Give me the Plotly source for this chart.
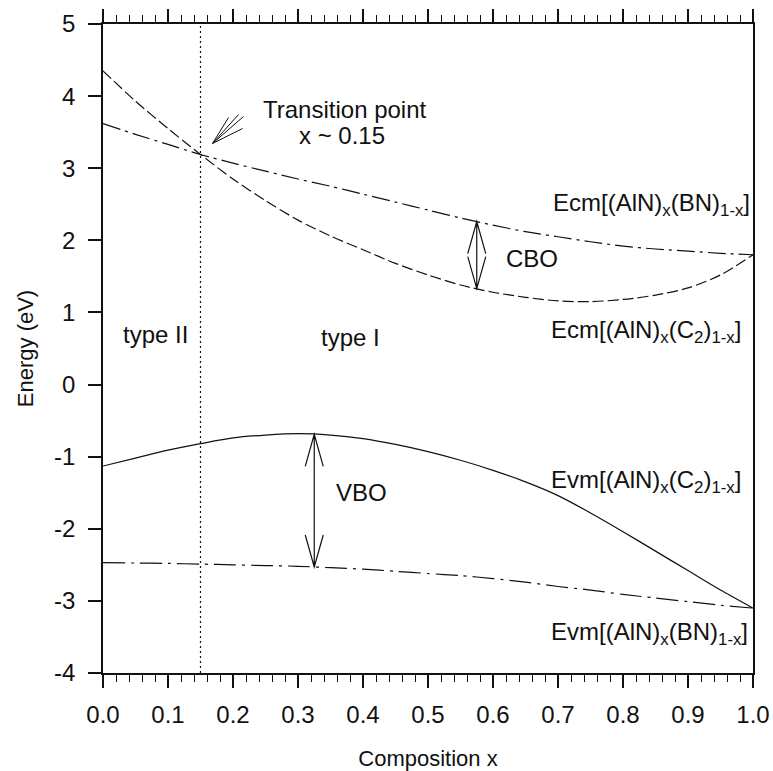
import numpy as np
import plotly.graph_objects as go

# Composition grid and band-edge energies (eV)
comp = [0.0, 0.05, 0.1, 0.15, 0.2, 0.25, 0.3, 0.35, 0.4, 0.45, 0.5,
        0.55, 0.6, 0.65, 0.7, 0.75, 0.8, 0.85, 0.9, 0.95, 1.0]
ecm_bn = [3.62, 3.47, 3.33, 3.19, 3.07, 2.96, 2.85, 2.75, 2.64, 2.53, 2.42,
          2.31, 2.21, 2.12, 2.05, 1.98, 1.92, 1.88, 1.85, 1.82, 1.80]
ecm_c2 = [4.35, 3.93, 3.55, 3.19, 2.85, 2.55, 2.28, 2.06, 1.87, 1.68, 1.52,
          1.38, 1.28, 1.21, 1.16, 1.15, 1.18, 1.24, 1.34, 1.52, 1.80]
evm_c2 = [-1.13, -1.02, -0.91, -0.82, -0.74, -0.70, -0.68, -0.70, -0.75, -0.83, -0.93,
          -1.05, -1.19, -1.35, -1.54, -1.78, -2.04, -2.31, -2.58, -2.85, -3.10]
evm_bn = [-2.47, -2.475, -2.48, -2.49, -2.50, -2.51, -2.52, -2.54, -2.56, -2.59, -2.62,
          -2.65, -2.69, -2.74, -2.80, -2.85, -2.91, -2.96, -3.01, -3.06, -3.10]

x_transition = 0.15
x_cbo = 0.575
x_vbo = 0.325

x_ticks = [0.0, 0.1, 0.2, 0.3, 0.4, 0.5, 0.6, 0.7, 0.8, 0.9, 1.0]
x_ticktext = ["0.0", "0.1", "0.2", "0.3", "0.4", "0.5", "0.6", "0.7", "0.8", "0.9", "1.0"]
y_ticks = [5, 4, 3, 2, 1, 0, -1, -2, -3, -4]
y_ticktext = ["5", "4", "3", "2", "1", "0", "-1", "-2", "-3", "-4"]

W, H = 773, 771
ML, MR, MT, MB = 103, 20, 24, 98
XR = (0.0, 1.0)
YR = (-4.0, 5.0)
px_x = (W - ML - MR) / (XR[1] - XR[0])   # pixels per composition unit
px_y = (H - MT - MB) / (YR[1] - YR[0])   # pixels per eV

FONT = "Liberation Sans, Arial, sans-serif"
INK = "#111111"

fig = go.Figure()


def curve(yvals, name, dash=None):
    fig.add_trace(go.Scatter(x=comp, y=yvals, mode="lines", name=name,
                             line=dict(color=INK, width=1.2, dash=dash,
                                       shape="spline", smoothing=0.8)))


curve(ecm_bn, "Ecm BN", "18px,5px,3px,5px")
curve(ecm_c2, "Ecm C2", "11px,4px")
curve(evm_c2, "Evm C2", "solid")
curve(evm_bn, "Evm BN", "22px,6px,3px,6px")
fig.add_trace(go.Scatter(x=[x_transition, x_transition], y=list(YR), mode="lines",
                         name="transition", line=dict(color=INK, width=1.2, dash="2px,3px")))


def double_arrow(x, y_top, y_bot, head_len=32, head_half=9):
    """Vertical double-headed arrow with long open V heads."""
    dl = head_len / px_y
    dw = head_half / px_x
    path = (f"M {x},{y_top} L {x},{y_bot} "
            f"M {x - dw},{y_top - dl} L {x},{y_top} L {x + dw},{y_top - dl} "
            f"M {x - dw},{y_bot + dl} L {x},{y_bot} L {x + dw},{y_bot + dl}")
    fig.add_shape(type="path", path=path, xref="x", yref="y",
                  line=dict(color=INK, width=1.2))


cbo_top = float(np.interp(x_cbo, comp, ecm_bn))
cbo_bot = float(np.interp(x_cbo, comp, ecm_c2))
vbo_top = float(np.interp(x_vbo, comp, evm_c2))
vbo_bot = float(np.interp(x_vbo, comp, evm_bn))
double_arrow(x_cbo, cbo_top, cbo_bot)
double_arrow(x_vbo, vbo_top, vbo_bot)

# Feathered pointer towards the crossing point
tip_x = x_transition + 12 / px_x
tip_y = float(np.interp(x_transition, comp, ecm_bn)) + 11 / px_y
fan = [(31, 27), (26, 29), (16, 26), (30, 15)]
segs = " ".join(f"M {tip_x},{tip_y} L {tip_x + dx / px_x},{tip_y + dy / px_y}" for dx, dy in fan)
fig.add_shape(type="path", path=segs, xref="x", yref="y", line=dict(color=INK, width=1))

labels = [
    ("Transition point", 0.372, 3.81, "center", 0),
    ("x ~ 0.15", 0.368, 3.46, "center", 0),
    ("CBO", 0.66, 1.75, "center", 0),
    ("VBO", 0.398, -1.50, "center", 0),
    ("type II", 0.08, 0.69, "center", 0),
    ("type I", 0.38, 0.65, "center", 0),
    ("Ecm[(AlN)<sub>x</sub>(BN)<sub>1-x</sub>]", 1.0, 2.50, "right", -1),
    ("Ecm[(AlN)<sub>x</sub>(C<sub>2</sub>)<sub>1-x</sub>]", 0.985, 0.74, "right", 0),
    ("Evm[(AlN)<sub>x</sub>(C<sub>2</sub>)<sub>1-x</sub>]", 0.985, -1.34, "right", 0),
    ("Evm[(AlN)<sub>x</sub>(BN)<sub>1-x</sub>]", 0.995, -3.45, "right", 0),
]
for text, xv, yv, anchor, shift in labels:
    fig.add_annotation(x=xv, y=yv, text=text, showarrow=False, xanchor=anchor,
                       xshift=shift, yanchor="middle",
                       font=dict(family=FONT, size=24, color=INK))

axis_common = dict(
    showgrid=False, zeroline=False, showline=True, linecolor=INK, linewidth=1.5,
    ticks="outside", tickcolor=INK, tickwidth=1.5, ticklen=13, automargin=False,
    tickfont=dict(family=FONT, size=24, color=INK),
)

fig.update_layout(
    width=W, height=H,
    margin=dict(l=ML, r=MR, t=MT, b=MB),
    paper_bgcolor="white", plot_bgcolor="white",
    showlegend=False,
    xaxis=dict(range=list(XR), tickvals=x_ticks, ticktext=x_ticktext, mirror="ticks",
               minor=dict(dtick=0.02, ticks="outside", ticklen=7, tickcolor=INK, tickwidth=1),
               ticklabelstandoff=6,
               title=dict(text="Composition x", font=dict(family=FONT, size=22, color=INK),
                          standoff=24),
               **axis_common),
    yaxis=dict(range=list(YR), tickvals=y_ticks, ticktext=y_ticktext, mirror=True,
               ticklabelstandoff=8,
               title=dict(text="Energy (eV)", font=dict(family=FONT, size=22, color=INK),
                          standoff=14),
               **axis_common),
)

fig.write_html("out.html")
